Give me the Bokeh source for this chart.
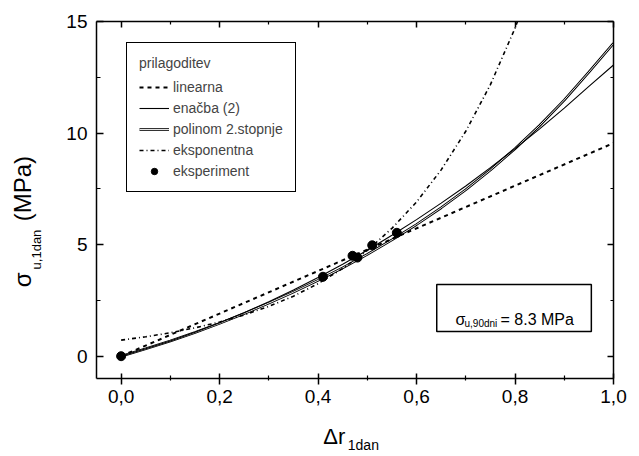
from bokeh.plotting import figure
from bokeh.models import (LinearAxis, FixedTicker, Legend, LegendItem, Label,
                          BoxAnnotation, Range1d)
from bokeh.embed import file_html
from bokeh.resources import INLINE

# ---- data ----
x_meas = [0.0, 0.41, 0.47, 0.48, 0.51, 0.56]
y_meas = [0.0, 3.56, 4.50, 4.42, 4.97, 5.53]

x_lin = [0.0, 1.0]
y_lin = [0.0, 9.55]

x_fit = [0.0, 0.05, 0.10, 0.15, 0.20, 0.25, 0.30, 0.35, 0.40, 0.45, 0.50,
         0.55, 0.60, 0.65, 0.70, 0.75, 0.80, 0.85, 0.90, 0.95, 1.00]
y_enacba = [0.0, 0.33, 0.68, 1.07, 1.50, 1.95, 2.44, 2.97, 3.53, 4.12, 4.75,
            5.42, 6.12, 6.86, 7.63, 8.45, 9.30, 10.19, 11.12, 12.09, 13.05]
y_polinom = [0.0, 0.33, 0.68, 1.06, 1.47, 1.91, 2.38, 2.87, 3.40, 3.96, 4.56,
             5.21, 5.90, 6.65, 7.46, 8.34, 9.30, 10.34, 11.48, 12.73, 14.02]

x_expo = [0.0, 0.05, 0.10, 0.15, 0.20, 0.25, 0.30, 0.35, 0.40, 0.45, 0.50,
          0.55, 0.60, 0.65, 0.70, 0.75, 0.80, 0.85]
y_expo = [0.72, 0.87, 1.05, 1.27, 1.53, 1.85, 2.23, 2.69, 3.25, 3.93, 4.74,
          5.73, 6.91, 8.35, 10.08, 12.17, 14.70, 17.74]

x_ticks = [0.0, 0.2, 0.4, 0.6, 0.8, 1.0]
x_tick_labels = ["0,0", "0,2", "0,4", "0,6", "0,8", "1,0"]
x_minor = [0.1, 0.3, 0.5, 0.7, 0.9]
y_ticks = [0, 5, 10, 15]
y_tick_labels = ["0", "5", "10", "15"]
y_minor = [2.5, 7.5, 12.5]

legend_labels = ["linearna", "enačba (2)", "polinom 2.stopnje", "eksponentna", "eksperiment"]
legend_title = "prilagoditev"
note_symbol, note_sub, note_rest = "σ", "u,90dni", "= 8.3 MPa"
xlabel_main, xlabel_sub = "Δr", "1dan"
ylabel_sym, ylabel_sub, ylabel_unit = "σ", "u,1dan", "(MPa)"

FONT = "Liberation Sans"

p = figure(width=639, height=456, x_range=Range1d(-0.05, 1.0), y_range=Range1d(-1, 15),
           toolbar_location=None, output_backend="svg",
           min_border_left=96, min_border_right=26, min_border_top=21, min_border_bottom=78)
p.grid.visible = False
p.outline_line_color = None
p.background_fill_color = "white"

# main axes
xa = p.xaxis[0]
ya = p.yaxis[0]
xa.ticker = FixedTicker(ticks=x_ticks, minor_ticks=x_minor)
ya.ticker = FixedTicker(ticks=y_ticks, minor_ticks=y_minor)
xa.major_label_overrides = dict(zip(x_ticks, x_tick_labels))
ya.major_label_overrides = dict(zip(y_ticks, y_tick_labels))
for ax in (xa, ya):
    ax.axis_line_width = 1.5
    ax.axis_line_color = "black"
    ax.major_tick_line_width = 1.5
    ax.minor_tick_line_width = 1.2
    ax.major_tick_line_color = "black"
    ax.minor_tick_line_color = "black"
    ax.major_label_text_font = FONT
    ax.major_label_text_font_size = "19px"
    ax.major_label_text_color = "black"
xa.major_tick_in = 5
xa.major_tick_out = 6
xa.minor_tick_in = 3
xa.minor_tick_out = 2
xa.major_label_standoff = 5
ya.major_tick_in = 7
ya.major_tick_out = 0
ya.minor_tick_in = 4
ya.minor_tick_out = 0
ya.major_label_standoff = 9

# mirrored axes (top/right), ticks only
top = LinearAxis(ticker=FixedTicker(ticks=x_ticks, minor_ticks=x_minor))
right = LinearAxis(ticker=FixedTicker(ticks=y_ticks, minor_ticks=y_minor))
for ax in (top, right):
    ax.axis_line_width = 1.5
    ax.axis_line_color = "black"
    ax.major_tick_line_width = 1.5
    ax.minor_tick_line_width = 1.2
    ax.major_tick_in = 6
    ax.major_tick_out = 0
    ax.minor_tick_in = 3
    ax.minor_tick_out = 0
    ax.major_label_text_font_size = "0px"
    ax.major_label_standoff = 0
    ax.major_label_text_alpha = 0
p.add_layout(top, "above")
p.add_layout(right, "right")


def text_axis(side, pos, text, size, standoff, orientation="horizontal"):
    """Axis without line/ticks used only to place a label text outside the frame."""
    ax = LinearAxis(ticker=FixedTicker(ticks=[pos], minor_ticks=[]),
                    major_label_overrides={pos: text})
    ax.axis_line_color = None
    ax.major_tick_line_color = None
    ax.minor_tick_line_color = None
    ax.major_tick_in = 0
    ax.major_tick_out = 0
    ax.minor_tick_in = 0
    ax.minor_tick_out = 0
    ax.major_label_text_font = FONT
    ax.major_label_text_font_size = size
    ax.major_label_text_color = "black"
    ax.major_label_standoff = standoff
    ax.major_label_orientation = orientation
    p.add_layout(ax, side)
    return ax


# x-axis title: Δr with subscript 1dan
text_axis("below", 0.433, xlabel_main, "22px", 18)
text_axis("below", 0.492, xlabel_sub, "14px", -15)

# y-axis title: σ with subscript u,1dan and (MPa)
text_axis("left", 4.78, ylabel_sub, "13px", 19, "parallel")
ax_main = text_axis("left", 3.42, ylabel_sym, "24px", -10, "parallel")
ax_main.ticker = FixedTicker(ticks=[3.42, 7.51], minor_ticks=[])
ax_main.major_label_overrides = {3.42: ylabel_sym, 7.51: ylabel_unit}

# curves
r_pol_b = p.line(x_fit, y_polinom, line_color="black", line_width=2.6)
r_pol_w = p.line(x_fit, y_polinom, line_color="white", line_width=0.9)
r_en = p.line(x_fit, y_enacba, line_color="black", line_width=1.1)
r_lin = p.line(x_lin, y_lin, line_color="black", line_width=2, line_dash="4 4")
r_exp = p.line(x_expo, y_expo, line_color="black", line_width=1.6, line_dash="4 3 1 3")
r_pts = p.scatter(x_meas, y_meas, size=9, marker="circle", fill_color="black", line_color="black")

legend = Legend(items=[
    LegendItem(label=legend_labels[0], renderers=[r_lin]),
    LegendItem(label=legend_labels[1], renderers=[r_en]),
    LegendItem(label=legend_labels[2], renderers=[r_pol_b, r_pol_w]),
    LegendItem(label=legend_labels[3], renderers=[r_exp]),
    LegendItem(label=legend_labels[4], renderers=[r_pts]),
], title=legend_title, location=(30, 186))
legend.title_text_font = FONT
legend.title_text_font_size = "14px"
legend.title_text_font_style = "normal"
legend.title_standoff = 8
legend.label_text_font = FONT
legend.label_text_font_size = "14px"
legend.glyph_width = 30
legend.glyph_height = 16
legend.label_height = 16
legend.label_standoff = 4
legend.spacing = 5
legend.padding = 12
legend.margin = 0
legend.border_line_color = "black"
legend.border_line_alpha = 1.0
legend.border_line_width = 1.5
legend.background_fill_alpha = 1
p.add_layout(legend)

# annotation box
p.add_layout(BoxAnnotation(left=0.641, right=0.955, bottom=1.11, top=3.21,
                           fill_alpha=0, line_color="black", line_alpha=1.0, line_width=1.5))


def lab(text, dx, dy, size):
    p.add_layout(Label(x=-0.05, y=-1, x_offset=dx, y_offset=dy, text=text,
                       text_font=FONT, text_font_size=size, text_color="black",
                       text_baseline="alphabetic", text_align="left"))


lab(note_symbol, 359, 59, "16px")
lab(note_sub, 368, 55, "10px")
lab(note_rest, 404, 59, "16px")

open("out.html", "w").write(file_html(p, INLINE))
